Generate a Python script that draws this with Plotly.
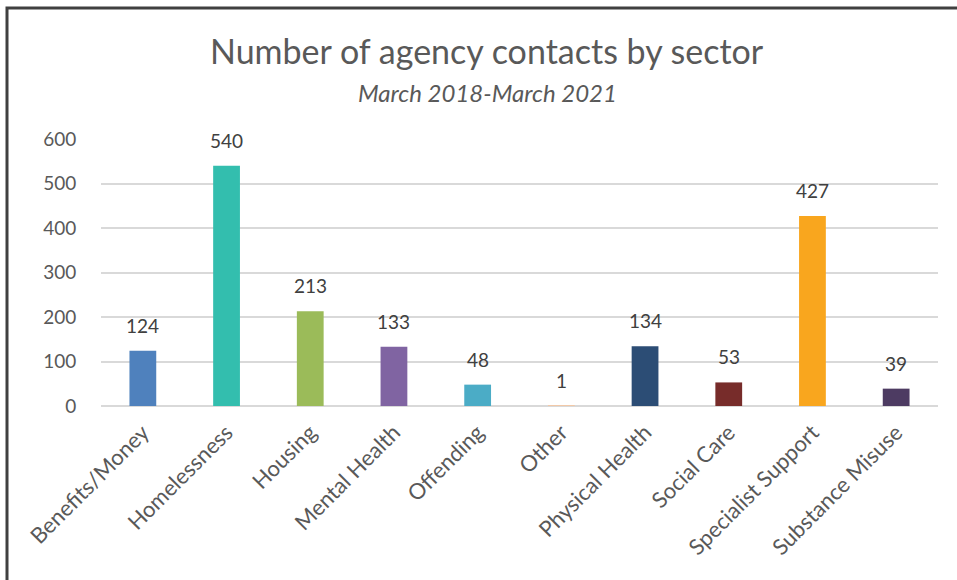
import plotly.graph_objects as go

# Agency contacts per sector, March 2018 - March 2021
sectors = ["Benefits/Money", "Homelessness", "Housing", "Mental Health", "Offending",
           "Other", "Physical Health", "Social Care", "Specialist Support", "Substance Misuse"]
contacts = [124, 540, 213, 133, 48, 1, 134, 53, 427, 39]
bar_colors = ["#4F81BD", "#33BEAE", "#9BBB59", "#8064A2", "#4BACC6",
              "#F2C9A8", "#2C4D75", "#772C2A", "#F9A61E", "#4D3B62"]
y_ticks = [0, 100, 200, 300, 400, 500, 600]

FONT = "Lato, Carlito, Calibri, sans-serif"
W, H = 957, 580
L, R, T, B = 101, 19, 139, 174
PW, PH = W - L - R, H - T - B

fig = go.Figure(
    go.Bar(
        x=sectors,
        y=contacts,
        marker=dict(color=bar_colors, line=dict(width=0)),
        hoverinfo="x+y",
    )
)

# value labels above each bar
for s, v in zip(sectors, contacts):
    fig.add_annotation(
        x=s, y=v, text=str(v), showarrow=False,
        yanchor="bottom", yshift=12,
        font=dict(family=FONT, size=19, color="#404040"),
    )

# title and subtitle
fig.add_annotation(
    xref="paper", yref="paper", x=(487 - L) / PW, y=(H - B - 50) / PH,
    text="Number of agency contacts by sector", showarrow=False,
    xanchor="center", yanchor="middle",
    font=dict(family=FONT, size=34, color="#595959"),
)
fig.add_annotation(
    xref="paper", yref="paper", x=(487 - L) / PW, y=(H - B - 92) / PH,
    text="<i>March 2018-March 2021</i>", showarrow=False,
    xanchor="center", yanchor="middle",
    font=dict(family=FONT, size=24, color="#595959"),
)

# chart frame (top and left edges visible)
fig.add_shape(
    type="rect", xref="paper", yref="paper",
    x0=(7 - L) / PW, x1=(W + 20 - L) / PW,
    y0=-(B + 30) / PH, y1=(H - B - 8) / PH,
    line=dict(color="#404040", width=3),
    fillcolor="rgba(0,0,0,0)", layer="below",
)

fig.update_layout(
    width=W, height=H,
    margin=dict(l=L, r=R, t=T, b=B),
    paper_bgcolor="white", plot_bgcolor="white",
    bargap=0.68,
    showlegend=False,
    xaxis=dict(
        tickangle=-45,
        tickfont=dict(family=FONT, size=22, color="#595959"),
        showgrid=False, showline=False, zeroline=False,
        ticks="outside", ticklen=4, tickcolor="rgba(0,0,0,0)",
    ),
    yaxis=dict(
        range=[0, 600],
        tickvals=y_ticks,
        tickfont=dict(family=FONT, size=19, color="#595959"),
        showgrid=True, gridcolor="#D9D9D9", gridwidth=1.5,
        zeroline=True, zerolinecolor="#D9D9D9", zerolinewidth=2,
        showline=False,
        ticks="outside", ticklen=20, tickcolor="rgba(0,0,0,0)",
    ),
)

fig.write_html("out.html")
